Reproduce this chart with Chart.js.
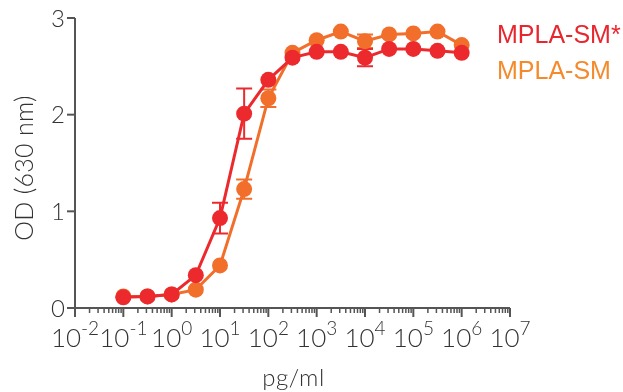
<!DOCTYPE html>
<html>
<head>
<meta charset="utf-8">
<script src="https://cdn.jsdelivr.net/npm/chart.js@4/dist/chart.umd.min.js"></script>
<style>
  html, body { margin: 0; padding: 0; background: #fff; }
  #wrap { width: 623px; height: 392px; position: relative; }
</style>
</head>
<body>
<div id="wrap"><canvas id="odChart"></canvas></div>
<script>
// Konzentrationen (pg/ml)
const concentrations = [0.1, 0.316, 1, 3.16, 10, 31.6, 100, 316, 1000, 3160, 10000, 31600, 100000, 316000, 1000000];

// MPLA-SM* (rot)
const smStarValues = [0.11, 0.12, 0.14, 0.34, 0.93, 2.01, 2.36, 2.59, 2.65, 2.65, 2.59, 2.68, 2.68, 2.66, 2.64];
const smStarErrors = [0, 0, 0, 0, 0.16, 0.26, 0, 0, 0, 0, 0.09, 0, 0, 0, 0];

// MPLA-SM (orange)
const smValues = [0.12, 0.12, 0.14, 0.19, 0.44, 1.23, 2.17, 2.64, 2.77, 2.86, 2.76, 2.83, 2.84, 2.86, 2.72];
const smErrors = [0, 0, 0, 0, 0, 0.10, 0.09, 0, 0, 0, 0.07, 0, 0, 0, 0];

const seriesNames = ['MPLA-SM*', 'MPLA-SM'];
const yTicks = [0, 1, 2, 3];
const xExponents = [-2, -1, 0, 1, 2, 3, 4, 5, 6, 7];

const RED = '#ec2a2e';
const ORANGE = '#f26e2b';
const AXIS = '#555555';
const TEXT = '#333333';
const FONT = 'Lato, "Noto Sans", sans-serif';

const toPoints = (vals) => concentrations.map((c, i) => ({ x: c, y: vals[i] }));

// Achsen, Fehlerbalken und Legende selbst zeichnen
const axesPlugin = {
    id: 'axesPlugin',
    beforeDatasetsDraw(chart) {
        const { ctx, scales: { x, y } } = chart;
        const left = x.getPixelForValue(0.01);
        const right = x.getPixelForValue(1e7);
        const top = y.getPixelForValue(3);
        const bottom = y.getPixelForValue(0);
        ctx.save();
        ctx.strokeStyle = AXIS;
        ctx.lineWidth = 2;
        ctx.beginPath();
        ctx.moveTo(left, top);
        ctx.lineTo(left, bottom);
        ctx.lineTo(right, bottom);
        ctx.stroke();

        // y Ticks
        ctx.fillStyle = TEXT;
        ctx.font = '300 24px ' + FONT;
        ctx.textAlign = 'right';
        ctx.textBaseline = 'middle';
        yTicks.forEach(v => {
            const py = y.getPixelForValue(v);
            ctx.beginPath();
            ctx.moveTo(left - 8, py);
            ctx.lineTo(left, py);
            ctx.stroke();
            ctx.fillText(String(v), left - 10, py + 1);
        });

        // x Ticks (Haupt- und Nebenstriche)
        ctx.lineWidth = 1.5;
        for (let e = -2; e < 7; e++) {
            for (let m = 2; m <= 9; m++) {
                const px = x.getPixelForValue(m * Math.pow(10, e));
                ctx.beginPath();
                ctx.moveTo(px, bottom);
                ctx.lineTo(px, bottom + 5);
                ctx.stroke();
            }
        }
        ctx.lineWidth = 2;
        xExponents.forEach(e => {
            const px = x.getPixelForValue(Math.pow(10, e));
            ctx.beginPath();
            ctx.moveTo(px, bottom);
            ctx.lineTo(px, bottom + 9);
            ctx.stroke();

            const base = '10';
            const sup = e < 0 ? '-' + Math.abs(e) : String(e);
            ctx.font = '300 26px ' + FONT;
            const wb = ctx.measureText(base).width;
            ctx.font = '300 19px ' + FONT;
            const ws = ctx.measureText(sup).width;
            const x0 = px - (wb + ws) / 2;
            ctx.textAlign = 'left';
            ctx.textBaseline = 'alphabetic';
            ctx.font = '300 26px ' + FONT;
            ctx.fillText(base, x0, bottom + 39);
            ctx.font = '300 19px ' + FONT;
            ctx.fillText(sup, x0 + wb, bottom + 27);
        });

        // Achsentitel
        ctx.font = '300 24px ' + FONT;
        ctx.letterSpacing = '0.5px';
        ctx.textAlign = 'center';
        ctx.textBaseline = 'middle';
        ctx.fillText('pg/ml', (left + right) / 2 + 1, 378);
        ctx.save();
        ctx.translate(25, 168);
        ctx.rotate(-Math.PI / 2);
        ctx.font = '300 25px ' + FONT;
        ctx.letterSpacing = '0.3px';
        ctx.fillText('OD (630 nm)', 0, 0);
        ctx.restore();
        ctx.letterSpacing = '0px';

        // Fehlerbalken
        const errSets = [[smValues, smErrors, ORANGE], [smStarValues, smStarErrors, RED]];
        errSets.forEach(([vals, errs, col]) => {
            ctx.strokeStyle = col;
            ctx.lineWidth = 2;
            concentrations.forEach((c, i) => {
                if (!errs[i]) return;
                const px = x.getPixelForValue(c);
                const y1 = y.getPixelForValue(vals[i] + errs[i]);
                const y2 = y.getPixelForValue(vals[i] - errs[i]);
                ctx.beginPath();
                ctx.moveTo(px, y1); ctx.lineTo(px, y2);
                ctx.moveTo(px - 8, y1); ctx.lineTo(px + 8, y1);
                ctx.moveTo(px - 8, y2); ctx.lineTo(px + 8, y2);
                ctx.stroke();
            });
        });

        // Legende
        ctx.font = '25px "Liberation Sans", Arial, sans-serif';
        ctx.textAlign = 'left';
        ctx.textBaseline = 'middle';
        ctx.fillStyle = '#e8262d';
        ctx.fillText(seriesNames[0], 497, 36);
        ctx.fillStyle = '#f58a2c';
        ctx.fillText(seriesNames[1], 497, 72);
        ctx.restore();
    }
};

const ctx = document.getElementById('odChart').getContext('2d');
new Chart(ctx, {
    type: 'line',
    data: {
        datasets: [
            {
                label: seriesNames[0],
                data: toPoints(smStarValues),
                borderColor: RED,
                backgroundColor: RED,
                borderWidth: 3,
                pointRadius: 8,
                pointBorderWidth: 0,
                pointHoverRadius: 8,
                clip: false,
                tension: 0
            },
            {
                label: seriesNames[1],
                data: toPoints(smValues),
                borderColor: ORANGE,
                backgroundColor: ORANGE,
                borderWidth: 3,
                pointRadius: 8,
                pointBorderWidth: 0,
                pointHoverRadius: 8,
                clip: false,
                tension: 0
            }
        ]
    },
    options: {
        responsive: true,
        maintainAspectRatio: false,
        animation: false,
        layout: { padding: { left: 75, right: 113, top: 18, bottom: 84 } },
        scales: {
            x: { type: 'logarithmic', min: 0.01, max: 1e7, display: false },
            y: { type: 'linear', min: 0, max: 3, display: false }
        },
        plugins: {
            legend: { display: false },
            tooltip: { enabled: false }
        }
    },
    plugins: [axesPlugin]
});
</script>
</body>
</html>
